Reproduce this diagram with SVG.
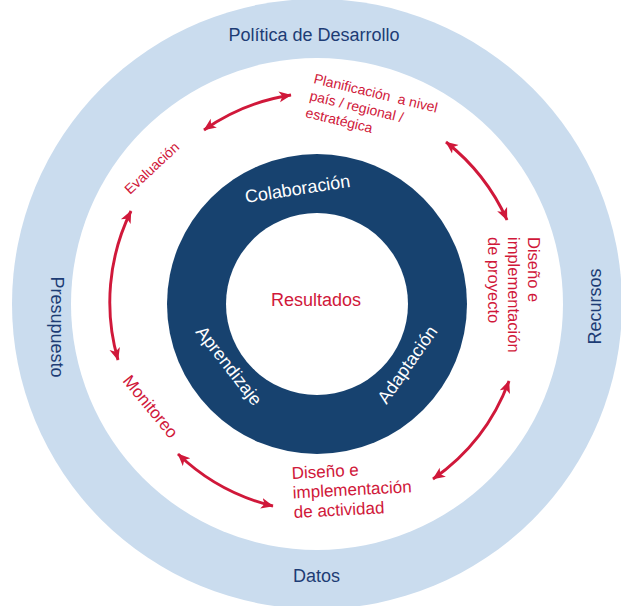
<svg xmlns="http://www.w3.org/2000/svg" width="621" height="606" viewBox="0 0 621 606">
<style>
  text { font-family: "Liberation Sans", Arial, sans-serif; }
  .outer { fill: #1D3C75; font-size: 18px; }
  .inner { fill: #FFFFFF; font-size: 18px; }
  .red { fill: #D0183A; }
  .arc { fill: none; stroke: #D0183A; stroke-width: 2.9; marker-start: url(#head); marker-end: url(#head); }
</style>
<defs>
  <marker id="head" viewBox="0 0 12 12" refX="11" refY="6" markerWidth="13" markerHeight="13" markerUnits="userSpaceOnUse" orient="auto-start-reverse">
    <path d="M0,1 L11.5,6 L0,11 L3,6 Z" fill="#D0183A"/>
  </marker>
</defs>
<g id="background">
  <circle cx="317" cy="304" r="305" fill="#CADCEE"/>
  <circle cx="317" cy="304" r="246" fill="#FFFFFF"/>
  <circle cx="317" cy="304" r="150" fill="#17426F"/>
  <circle cx="317" cy="304" r="91" fill="#FFFFFF"/>
</g>
<g id="connectors">
  <path class="arc" d="M204,130 A207,207 0 0 1 291,95"/>
  <path class="arc" d="M446,142 A207,207 0 0 1 507,220"/>
  <path class="arc" d="M509,381 A207,207 0 0 1 433,479"/>
  <path class="arc" d="M273,506 A207,207 0 0 1 178,454"/>
  <path class="arc" d="M118,360 A207,207 0 0 1 131,211"/>
</g>
<g id="politica"><text class="outer" x="314" y="40.5" text-anchor="middle">Política de Desarrollo</text></g>
<g id="datos"><text class="outer" x="316.5" y="582" text-anchor="middle">Datos</text></g>
<g id="presupuesto"><text class="outer" transform="translate(50.5,327) rotate(90)" text-anchor="middle">Presupuesto</text></g>
<g id="recursos"><text class="outer" transform="translate(601,306.5) rotate(-90)" text-anchor="middle">Recursos</text></g>
<g id="resultados"><text class="red" x="316" y="306" font-size="18" text-anchor="middle">Resultados</text></g>
<g id="colaboracion"><text class="inner" transform="translate(246,203) rotate(-8.8)">Colaboración</text></g>
<g id="aprendizaje"><text class="inner" transform="translate(195,332) rotate(52)">Aprendizaje</text></g>
<g id="adaptacion"><text class="inner" transform="translate(386.5,405) rotate(-55)">Adaptación</text></g>
<g id="planificacion"><text class="red" font-size="14" transform="translate(313,83) rotate(13.5)" xml:space="preserve"><tspan x="0" y="0">Planificación  a nivel</tspan><tspan x="0" y="17.5">país / regional /</tspan><tspan x="0" y="35">estratégica</tspan></text></g>
<g id="evaluacion"><text class="red" font-size="14" transform="translate(130,195) rotate(-43)">Evaluación</text></g>
<g id="monitoreo"><text class="red" font-size="17" transform="translate(122,381) rotate(50.5)">Monitoreo</text></g>
<g id="diseno-proyecto"><text class="red" font-size="16.5" transform="translate(528,237) rotate(90)"><tspan x="0" y="0">Diseño e</tspan><tspan x="0" y="20">implementación</tspan><tspan x="0" y="40">de proyecto</tspan></text></g>
<g id="diseno-actividad"><text class="red" font-size="17" transform="translate(292,479) rotate(-3)"><tspan x="0" y="0">Diseño e</tspan><tspan x="0" y="19.5">implementación</tspan><tspan x="0" y="39">de actividad</tspan></text></g>
</svg>
